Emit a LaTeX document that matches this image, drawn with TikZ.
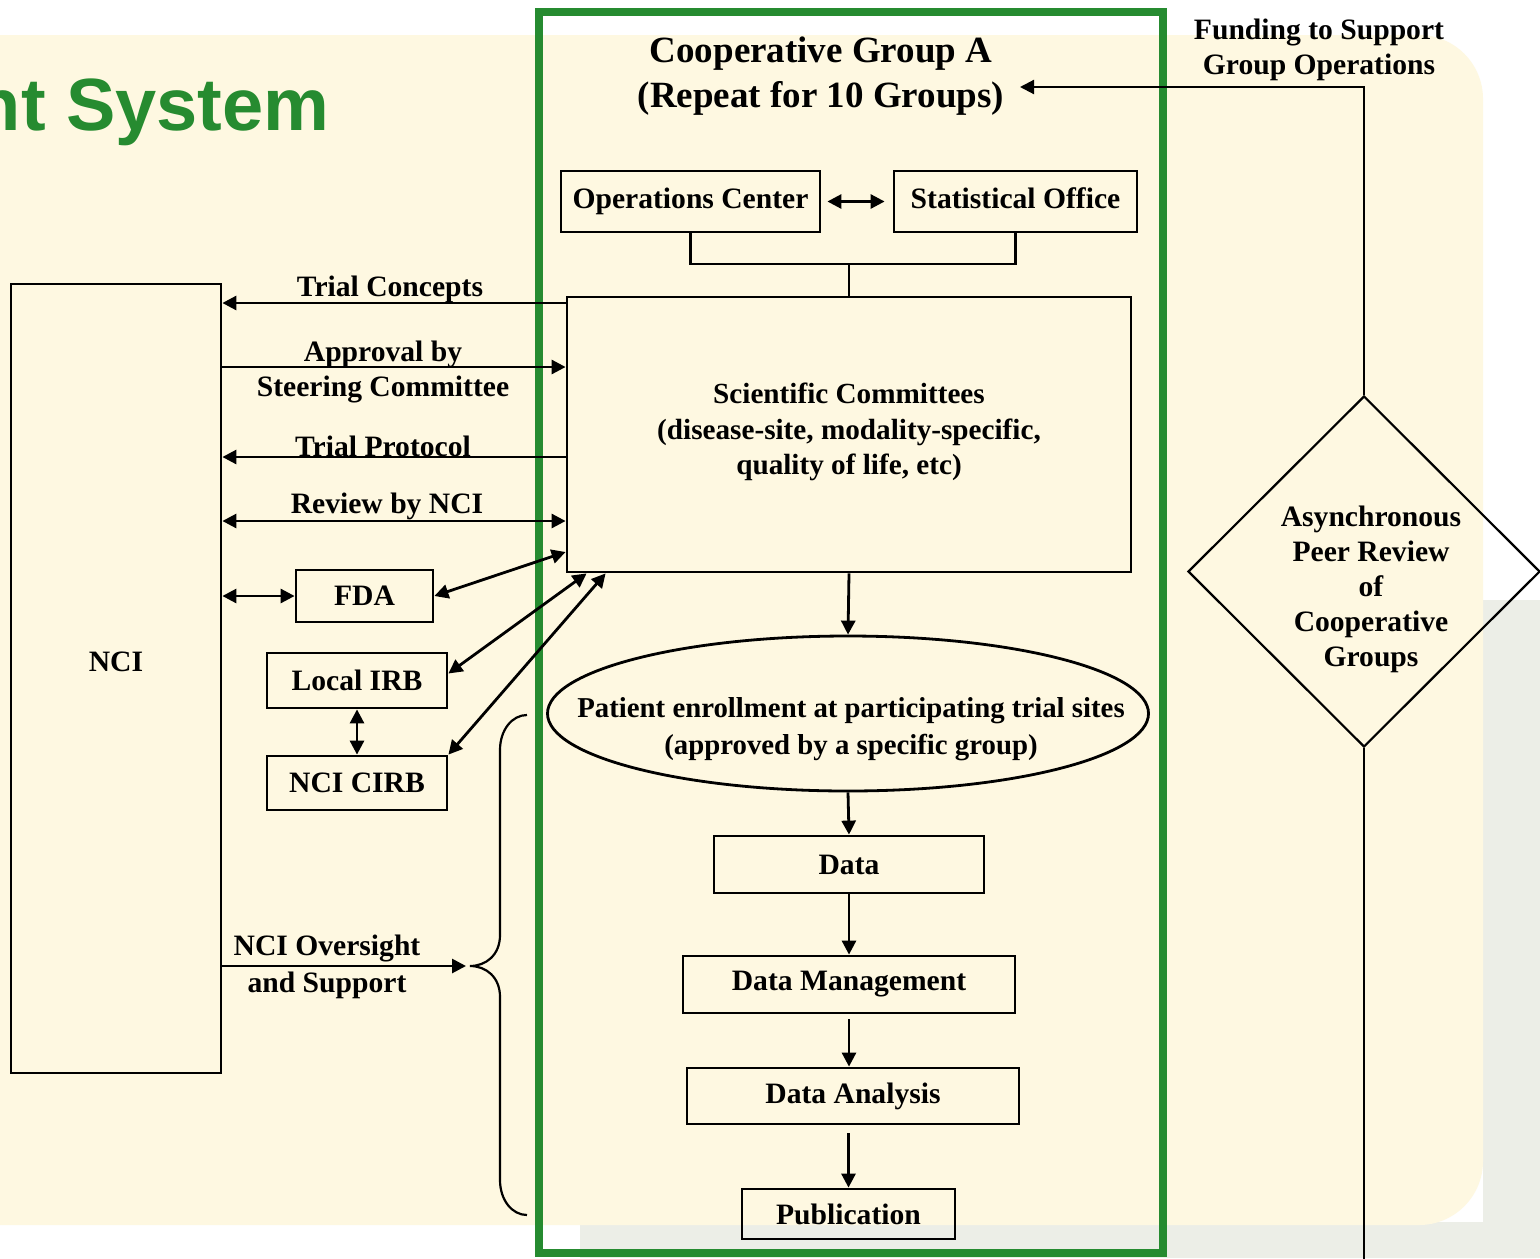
\documentclass[tikz,border=0pt]{standalone}
\usepackage{fontspec}
\setmainfont{Liberation Serif}
\newfontfamily\arialf{Liberation Sans}
\usetikzlibrary{arrows.meta,shapes.geometric,calc}
\definecolor{cream}{HTML}{FEF8E1}
\definecolor{patgrey}{HTML}{ECEEE7}
\definecolor{ggreen}{HTML}{268B30}
\begin{document}
\begin{tikzpicture}[x=0.5pt,y=-0.5pt,
  txtfont/.style={font=\bfseries\fontsize{14.8}{17.5}\selectfont},
  box/.style={draw, line width=1.4pt, inner sep=0pt, txtfont, align=center},
  lbl/.style={inner sep=0pt, txtfont, align=center},
  ln/.style={line width=1.4pt},
  arr/.style={line width=1.4pt, -{Triangle[length=7pt,width=7pt]}},
  darr/.style={line width=1.4pt, {Triangle[length=7pt,width=7pt]}-{Triangle[length=7pt,width=7pt]}},
  farr/.style={line width=1.1pt, -{Triangle[length=7pt,width=7pt]}}
]
\useasboundingbox (0,0) rectangle (1540,1258);
\clip (0,0) rectangle (1540,1258);
% background
\fill[white] (0,0) rectangle (1540,1258);
\fill[patgrey] (1483,600) rectangle (1540,1258);
\fill[patgrey] (580,1222) rectangle (1540,1258);
\fill[cream, rounded corners=32pt] (-80,35) rectangle (1483,1225);
% title
\node[anchor=base east, inner sep=0pt, text=ggreen, font=\arialf\bfseries\fontsize{37}{42}\selectfont] (sys) at (330,130) {nt System};
% green frame
\draw[ggreen, line width=4pt] (539,12) rectangle (1163,1253);

% group title
\node[lbl, font=\bfseries\fontsize{18.5}{22.5}\selectfont] (coop) at (821,76) {Cooperative Group A\\(Repeat for 10 Groups)};
\node[lbl] (fund) at (1319,50) {Funding to Support\\Group Operations};

% boxes
\node[box, minimum width=105pt, minimum height=394.5pt] (nci) at (116,678.5) {};
\node[lbl] (ncit) at (116,662) {NCI};
\node[box, minimum width=129.5pt, minimum height=30.5pt, font=\bfseries\fontsize{14.8}{18}\selectfont, text height=10pt, text depth=3pt] (ops) at (690.5,201.5) {Operations Center};
\node[box, minimum width=121.5pt, minimum height=30.5pt, font=\bfseries\fontsize{14.8}{18}\selectfont, text height=10pt, text depth=3pt] (stat) at (1015.5,201.5) {Statistical Office};
\node[box, minimum width=282pt, minimum height=137.5pt] (sci) at (849,434.5) {};
\node[lbl, font=\bfseries\fontsize{14.6}{17.7}\selectfont] (scit) at (849,432) {Scientific Committees\\(disease-site, modality-specific,\\quality of life, etc)};
\node[ellipse, draw, line width=1.4pt, minimum width=300.5pt, minimum height=77.5pt, inner sep=0pt] (enr) at (848,713.5) {};
\node[lbl, font=\bfseries\fontsize{14.4}{18.3}\selectfont] (enrt) at (851,729) {Patient enrollment at participating trial sites\\(approved by a specific group)};
\node[box, minimum width=135pt, minimum height=28.5pt] (data) at (849,864.5) {Data};
\node[box, minimum width=166pt, minimum height=28.5pt] (dm) at (849,984.5) {Data Management};
\node[box, minimum width=166pt, minimum height=28pt] (da) at (853,1096) {Data Analysis};
\node[box, minimum width=106.5pt, minimum height=25pt] (pub) at (848.5,1214) {Publication};
\node[box, minimum width=68.5pt, minimum height=26pt] (fda) at (364.5,596) {FDA};
\node[box, minimum width=90pt, minimum height=27.5pt] (lirb) at (357,680.5) {Local IRB};
\node[box, minimum width=90pt, minimum height=27pt] (cirb) at (357,783) {NCI CIRB};
\node[diamond, draw, line width=1.1pt, minimum width=176pt, minimum height=175.5pt, inner sep=0pt] (peer) at (1364,571.5) {};
\node[lbl] (peert) at (1371,589) {Asynchronous\\Peer Review\\of\\Cooperative\\Groups};

% labels on left arrows
\node[lbl] (tcl) at (390,289) {Trial Concepts};
\node[lbl] (apl) at (383,372) {Approval by\\Steering Committee};
\node[lbl] (tpl) at (383,446) {Trial Protocol};
\node[lbl] (rvl) at (387,506) {Review by NCI};
\node[lbl, font=\bfseries\fontsize{14.8}{18.5}\selectfont] (ovl) at (327,967) {NCI Oversight\\and Support};

% top tree
\draw[darr] ([xshift=3pt]ops.east) -- ([xshift=-4pt]stat.west);
\draw[ln] (ops.south) |- (sci.north |- 0,264) -| (stat.south);
\draw[ln] (sci.north |- 0,264) -- (sci.north);

% left arrows
\draw[arr] (sci.west |- 0,303) -- (nci.east |- 0,303);
\draw[arr] (nci.east |- 0,367) -- (sci.west |- 0,367);
\draw[arr] (sci.west |- 0,457) -- (nci.east |- 0,457);
\draw[darr] (nci.east |- 0,521) -- (sci.west |- 0,521);
\draw[darr] (nci.east |- fda.west) -- (fda.west);
\draw[darr] (fda.east) -- (sci.west |- 0,552);
\draw[darr] ([yshift=3.5pt]lirb.east) -- ([xshift=10.5pt]sci.south west);
\draw[darr] (cirb.north east) -- ([xshift=20pt]sci.south west);
\draw[darr] (lirb.south) -- (cirb.north);

% main flow
\draw[arr] (sci.south) -- (enr.north);
\draw[arr] (enr.south) -- (data.north);
\draw[arr] (data.south) -- (dm.south |- dm.north);
\draw[arr, shorten <=2.5pt] (dm.south) -- (dm.south |- da.north);
\draw[arr, shorten <=4pt] (da.south -| pub.north) -- (pub.north);

% brace and oversight
\coordinate (btip) at (470,966);
\draw[line width=1.1pt] (527,715) .. controls (512,715) and (500,730) .. (500,750) -- (500,935)
  .. controls (500,955) and (486,966) .. (btip)
  .. controls (486,966) and (500,977) .. (500,997) -- (500,1180)
  .. controls (500,1200) and (512,1215) .. (527,1215);
\draw[arr, shorten >=2pt] (nci.east |- btip) -- (btip);

% funding
\coordinate (fundtip) at (1020,87);
\draw[farr] (peer.north) |- (fundtip);
\draw[line width=1.1pt] (peer.south) -- (peer.south |- 0,1262);
\end{tikzpicture}
\end{document}
